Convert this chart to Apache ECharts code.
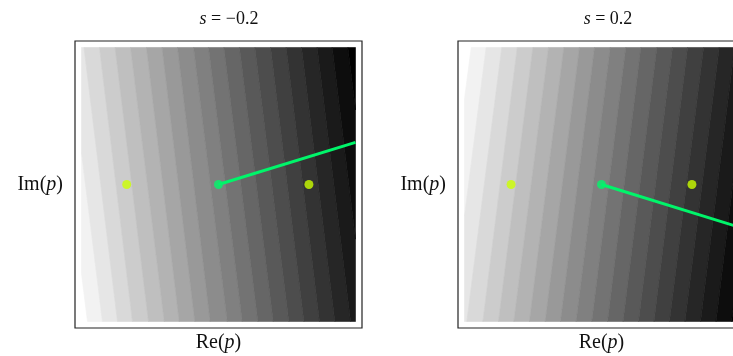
<!DOCTYPE html>
<html>
<head>
<meta charset="utf-8">
<script src="https://cdn.jsdelivr.net/npm/echarts@6/dist/echarts.min.js"></script>
<style>html,body{margin:0;padding:0;background:#fff}#c{width:733px;height:356px}</style>
</head>
<body>
<div id="c"></div>
<script>
// Panel titles
const panelTitles = ['−0.2', '0.2'];
// Gray levels (index 0 = white ... 20 = black)
const levelCount = 21;
// Band boundaries (Re(p) where level k turns into k+1), read at Im(p)=+1 (top) and -1 (bottom)
const leftTop = [-1.208,-1.095,-0.982,-0.869,-0.755,-0.642,-0.526,-0.412,-0.299,-0.182,-0.073,0.039,0.153,0.265,0.380,0.494,0.606,0.720,0.830,0.944];
const leftBottom = [-0.956,-0.847,-0.737,-0.628,-0.511,-0.396,-0.287,-0.173,-0.061,0.064,0.173,0.287,0.399,0.513,0.623,0.737,0.849,0.964,1.073,1.190];
const rightTop = [-0.951,-0.842,-0.728,-0.615,-0.501,-0.387,-0.275,-0.161,-0.051,0.064,0.177,0.287,0.404,0.518,0.628,0.745,0.859,0.971,1.080,1.197];
const rightBottom = [-1.212,-1.099,-0.983,-0.866,-0.752,-0.640,-0.526,-0.411,-0.299,-0.185,-0.071,0.044,0.157,0.270,0.383,0.496,0.609,0.723,0.836,0.949];
// Points
const leftPoles = [[-0.67, 0], [0.66, 0]];
const rightPoles = [[-0.66, 0], [0.66, 0]];
const leftPath = [[0, 0], [1, 0.307]];
const rightPath = [[0, 0], [1, -0.31]];

const chart = echarts.init(document.getElementById('c'), null, {renderer: 'canvas'});
const FONT = 'Liberation Serif';
const FS = 18, FSL = 20;
const R = 1.0474;

function clipX(poly, x0, keepGreater) {
  const out = [];
  for (let i = 0; i < poly.length; i++) {
    const a = poly[i], b = poly[(i + 1) % poly.length];
    const ina = keepGreater ? a[0] >= x0 : a[0] <= x0;
    const inb = keepGreater ? b[0] >= x0 : b[0] <= x0;
    if (ina) out.push(a);
    if (ina !== inb) {
      const t = (x0 - a[0]) / (b[0] - a[0]);
      out.push([x0, a[1] + t * (b[1] - a[1])]);
    }
  }
  return out;
}

function bandSeries(idx, top, bot) {
  const data = [];
  for (let k = 0; k < levelCount; k++) data.push([k]);
  return {
    type: 'custom', xAxisIndex: idx, yAxisIndex: idx, silent: true, z: 1,
    data: data,
    renderItem: function (params, api) {
      const k = api.value(0);
      const lt = k === 0 ? -5 : top[k - 1], rt = k === levelCount - 1 ? 5 : top[k];
      const lb = k === 0 ? -5 : bot[k - 1], rb = k === levelCount - 1 ? 5 : bot[k];
      let poly = [[lt, 1], [rt, 1], [rb, -1], [lb, -1]];
      poly = clipX(poly, -1, true);
      poly = clipX(poly, 1, false);
      if (poly.length < 3) return null;
      const pts = poly.map(p => api.coord(p));
      const g = Math.round(255 - k * 255 / (levelCount - 1));
      const col = 'rgb(' + g + ',' + g + ',' + g + ')';
      return {type: 'polygon', shape: {points: pts}, style: {fill: col, stroke: col, lineWidth: 0.6}};
    }
  };
}

function richOf(fs) {
  return {
    it: {fontFamily: FONT, fontStyle: 'italic', fontWeight: 'normal', fontSize: fs, color: '#111'},
    n: {fontFamily: FONT, fontWeight: 'normal', fontSize: fs, color: '#111'}
  };
}

const grids = [
  {left: 75, top: 41, width: 287, height: 287},
  {left: 458, top: 41, width: 287, height: 287}
];

function xAx(i) {
  return {gridIndex: i, type: 'value', min: -R, max: R,
    axisLine: {show: false}, axisTick: {show: false}, axisLabel: {show: false}, splitLine: {show: false},
    name: '{n|Re(}{it|p}{n|)}', nameLocation: 'middle', nameGap: 5,
    nameTextStyle: {rich: richOf(FSL)}};
}
function yAx(i) {
  return {gridIndex: i, type: 'value', min: -R, max: R,
    axisLine: {show: false}, axisTick: {show: false}, axisLabel: {show: false}, splitLine: {show: false},
    name: '{n|Im(}{it|p}{n|)}', nameLocation: 'middle', nameGap: 12, nameRotate: 0,
    nameTextStyle: {rich: richOf(FSL), align: 'right'}};
}

chart.setOption({
  animation: false,
  backgroundColor: '#fff',
  title: panelTitles.map((t, i) => ({
    text: '{it|s}{n| = ' + t + '}',
    left: [224, 603][i], top: 5, textAlign: 'center',
    textStyle: {rich: richOf(FS), fontWeight: 'normal'}
  })),
  grid: grids.map(g => Object.assign({show: true, borderColor: '#222', borderWidth: 1.2, backgroundColor: '#fff', outerBoundsMode: 'none', containLabel: false}, g)),
  xAxis: [xAx(0), xAx(1)],
  yAxis: [yAx(0), yAx(1)],
  series: [
    bandSeries(0, leftTop, leftBottom),
    bandSeries(1, rightTop, rightBottom),
    {type: 'line', xAxisIndex: 0, yAxisIndex: 0, data: leftPath, showSymbol: false, lineStyle: {color: '#00f56a', width: 3}, z: 3, silent: true},
    {type: 'line', xAxisIndex: 1, yAxisIndex: 1, data: rightPath, showSymbol: false, lineStyle: {color: '#00f56a', width: 3}, z: 3, silent: true},
    {type: 'scatter', xAxisIndex: 0, yAxisIndex: 0, data: [leftPath[0]], symbolSize: 9, itemStyle: {color: '#00f56a'}, z: 4, silent: true},
    {type: 'scatter', xAxisIndex: 1, yAxisIndex: 1, data: [rightPath[0]], symbolSize: 9, itemStyle: {color: '#00f56a'}, z: 4, silent: true},
    {type: 'scatter', xAxisIndex: 0, yAxisIndex: 0, data: leftPoles, symbolSize: 9, itemStyle: {color: '#ccff00'}, z: 4, silent: true},
    {type: 'scatter', xAxisIndex: 1, yAxisIndex: 1, data: rightPoles, symbolSize: 9, itemStyle: {color: '#ccff00'}, z: 4, silent: true}
  ]
});
</script>
</body>
</html>
